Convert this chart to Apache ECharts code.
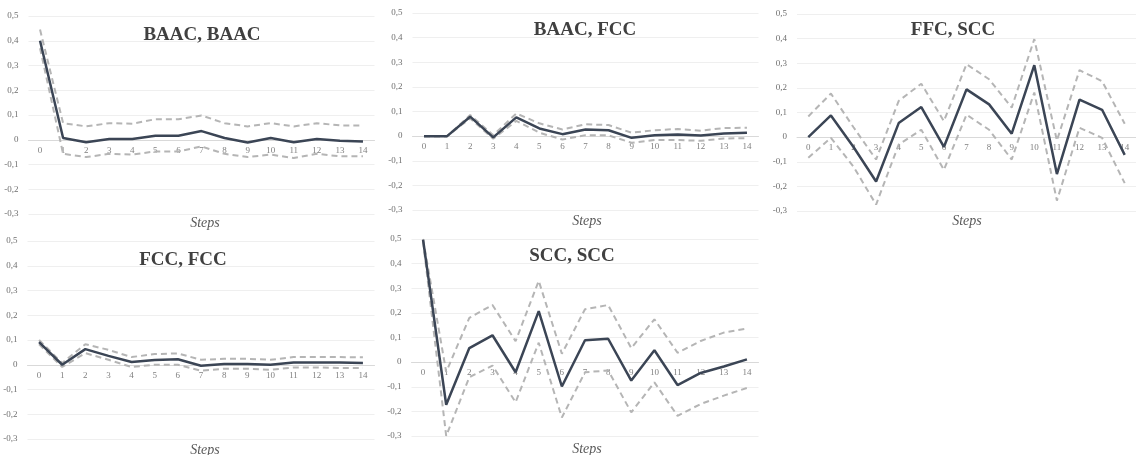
<!DOCTYPE html>
<html>
<head>
<meta charset="utf-8">
<script src="https://cdn.jsdelivr.net/npm/echarts@6/dist/echarts.min.js"></script>
<style>html,body{margin:0;padding:0;background:#fff;}#c{width:1136px;height:455px;}</style>
</head>
<body>
<div id="c"></div>
<script>
const steps = ['0','1','2','3','4','5','6','7','8','9','10','11','12','13','14'];
const yTicks = [-0.3,-0.2,-0.1,0,0.1,0.2,0.3,0.4,0.5];
const panelTitles = ['BAAC, BAAC','BAAC, FCC','FFC, SCC','FCC, FCC','SCC, SCC'];
const xAxisTitle = 'Steps';

const baacBaacMid = [0.40,0.007,-0.010,0.003,0.003,0.016,0.016,0.035,0.007,-0.011,0.007,-0.010,0.003,-0.004,-0.007];
const baacBaacUp  = [0.445,0.067,0.054,0.067,0.065,0.083,0.083,0.098,0.067,0.054,0.067,0.054,0.067,0.058,0.058];
const baacBaacLo  = [0.37,-0.057,-0.070,-0.057,-0.060,-0.047,-0.047,-0.027,-0.057,-0.070,-0.060,-0.074,-0.057,-0.067,-0.067];

const baacFccMid = [0,0,0.079,-0.005,0.076,0.031,0.008,0.027,0.024,-0.007,0.004,0.007,0.003,0.011,0.014];
const baacFccUp  = [0,0,0.086,0.004,0.092,0.052,0.027,0.048,0.045,0.014,0.024,0.029,0.022,0.033,0.034];
const baacFccLo  = [0,0,0.072,-0.011,0.062,0.014,-0.014,0.004,0.003,-0.027,-0.016,-0.016,-0.019,-0.010,-0.008];

const ffcSccMid = [0,0.088,-0.040,-0.180,0.057,0.122,-0.040,0.194,0.133,0.014,0.292,-0.150,0.152,0.111,-0.072];
const ffcSccUp  = [0.084,0.177,0.040,-0.091,0.147,0.217,0.065,0.296,0.235,0.120,0.398,-0.014,0.272,0.227,0.054];
const ffcSccLo  = [-0.084,-0.003,-0.120,-0.274,-0.030,0.030,-0.133,0.091,0.030,-0.091,0.181,-0.258,0.038,-0.003,-0.187];

const fccFccMid = [0.091,0,0.063,0.036,0.011,0.019,0.022,-0.004,0.003,0.003,0,0.009,0.009,0.009,0.007];
const fccFccUp  = [0.100,0.007,0.083,0.060,0.031,0.043,0.046,0.020,0.024,0.024,0.020,0.031,0.031,0.031,0.030];
const fccFccLo  = [0.083,-0.009,0.047,0.020,-0.009,0,0,-0.024,-0.016,-0.016,-0.020,-0.011,-0.011,-0.013,-0.013];

const sccSccMid = [0.497,-0.173,0.057,0.109,-0.041,0.207,-0.099,0.089,0.095,-0.075,0.048,-0.093,-0.044,-0.018,0.011];
const sccSccUp  = [0.500,-0.040,0.180,0.232,0.085,0.330,0.034,0.215,0.232,0.057,0.174,0.038,0.086,0.120,0.136];
const sccSccLo  = [0.490,-0.300,-0.061,-0.014,-0.163,0.079,-0.225,-0.041,-0.034,-0.204,-0.082,-0.218,-0.170,-0.136,-0.105];

const panels = [
  {mid: baacBaacMid, up: baacBaacUp, lo: baacBaacLo},
  {mid: baacFccMid, up: baacFccUp, lo: baacFccLo},
  {mid: ffcSccMid, up: ffcSccUp, lo: ffcSccLo},
  {mid: fccFccMid, up: fccFccUp, lo: fccFccLo},
  {mid: sccSccMid, up: sccSccUp, lo: sccSccLo}
];

const grids = [
  {left: 28.5, top: 16, width: 346, height: 198},
  {left: 412.5, top: 13, width: 346, height: 197},
  {left: 797, top: 14, width: 348, height: 197},
  {left: 27.5, top: 241, width: 347, height: 198},
  {left: 411.5, top: 239, width: 347, height: 197}
];
const titlePos = [[197,21],[580,16],[948,16],[178,246],[567,242]];
const stepsPos = [[200,211],[582,209],[962,209],[200,438],[582,437]];

const serif = '"Liberation Serif","Times New Roman",serif';
const fmt = v => { const r = Math.round(v*10)/10; return r === 0 ? '0' : r.toFixed(1).replace('.', ','); };
const yMin = yTicks[0], yMax = yTicks[yTicks.length-1];

const option = {
  animation: false,
  backgroundColor: '#ffffff',
  title: [],
  grid: grids.map(g => Object.assign({containLabel: false}, g)),
  xAxis: [],
  yAxis: [],
  series: []
};

panels.forEach((p, i) => {
  option.title.push({
    text: panelTitles[i], left: titlePos[i][0], top: titlePos[i][1], textAlign: 'center',
    textStyle: {fontFamily: serif, fontWeight: 'bold', fontSize: 19, color: '#404040'}
  });
  option.title.push({
    text: xAxisTitle, left: stepsPos[i][0], top: stepsPos[i][1], textAlign: 'center',
    textStyle: {fontFamily: serif, fontStyle: 'italic', fontWeight: 'normal', fontSize: 14, color: '#595959'}
  });
  // place the category axis on the zero line of the value scale
  const zeroOffset = -grids[i].height * (0 - yMin) / (yMax - yMin);
  option.xAxis.push({
    type: 'category', gridIndex: i, data: steps, boundaryGap: true, position: 'bottom',
    offset: zeroOffset,
    axisLine: {show: true, onZero: false, lineStyle: {color: '#d9d9d9', width: 1}},
    axisTick: {show: false},
    axisLabel: {fontFamily: serif, fontSize: 9, color: '#808080', margin: 6, interval: 0},
    splitLine: {show: false}
  });
  option.yAxis.push({
    type: 'value', gridIndex: i, min: yMin, max: yMax, interval: 0.1,
    axisLine: {show: false}, axisTick: {show: false},
    axisLabel: {fontFamily: serif, fontSize: 9, color: '#6f6f6f', margin: 10, formatter: fmt},
    splitLine: {show: true, lineStyle: {color: '#efefef', width: 1}}
  });
  const dashed = {color: '#b5b5b5', width: 2, type: [6, 4]};
  option.series.push({type: 'line', xAxisIndex: i, yAxisIndex: i, data: p.up, showSymbol: false, symbol: 'none', lineStyle: dashed, z: 2});
  option.series.push({type: 'line', xAxisIndex: i, yAxisIndex: i, data: p.lo, showSymbol: false, symbol: 'none', lineStyle: dashed, z: 2});
  option.series.push({type: 'line', xAxisIndex: i, yAxisIndex: i, data: p.mid, showSymbol: false, symbol: 'none', lineStyle: {color: '#3b4555', width: 2.5}, z: 3});
});

const chart = echarts.init(document.getElementById('c'), null, {renderer: 'canvas'});
chart.setOption(option);
</script>
</body>
</html>
